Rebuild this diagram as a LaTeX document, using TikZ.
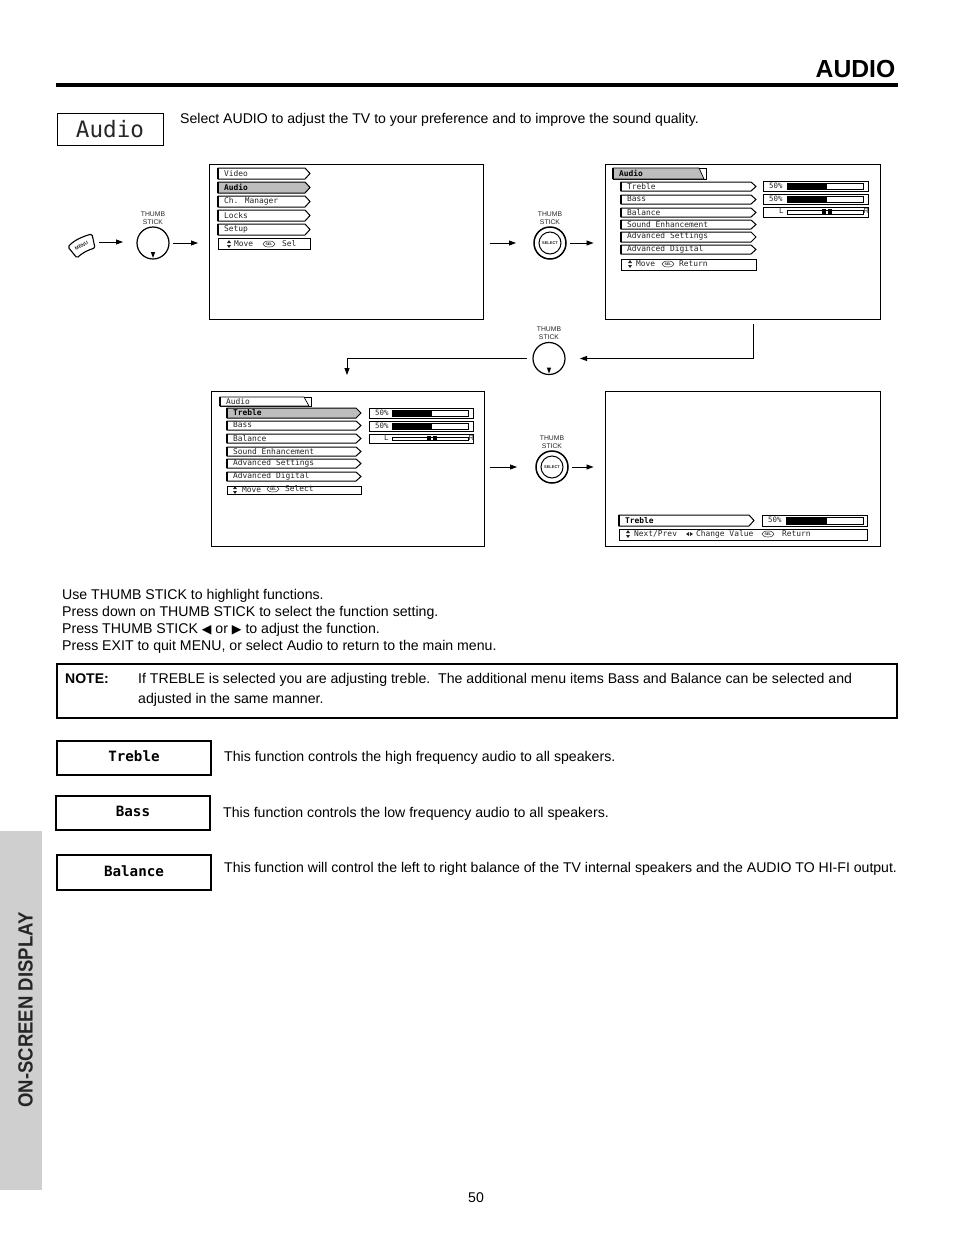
\documentclass[tikz,border=0pt]{standalone}
\usepackage{fontspec}
\setmainfont{Liberation Sans}
\newfontfamily\monof{DejaVu Sans Mono}
\newfontfamily\dvf{DejaVu Sans}
\usetikzlibrary{arrows.meta,calc,shapes.geometric}
\definecolor{tabgray}{gray}{0.81}
\definecolor{hlgray}{gray}{0.74}
\definecolor{inkc}{gray}{0.15}
\tikzset{
  frameb/.style={draw=black,line width=1pt,fill=white,anchor=north west,inner sep=0pt,outer sep=0pt},
  mbox/.style={draw=black,line width=1pt,fill=white,anchor=north west,inner sep=0pt,outer sep=0pt},
  ibox/.style={anchor=north west,inner sep=0pt,outer sep=0pt},
  mtext/.style={font=\monof\fontsize{7.9}{9}\selectfont,text=inkc,anchor=west,inner sep=0pt},
  mtextb/.style={font=\monof\bfseries\fontsize{7.9}{9}\selectfont,text=black,anchor=west,inner sep=0pt},
  body/.style={font=\fontsize{14.13}{17}\selectfont,anchor=base west,inner sep=0pt,text=black},
  fnbox/.style={draw=black,line width=2pt,fill=white,anchor=north west,inner sep=0pt,outer sep=0pt,text height=10pt,text depth=3pt,font=\monof\bfseries\fontsize{14.2}{17}\selectfont},
  tslabel/.style={font=\fontsize{6.8}{8}\selectfont,align=center,inner sep=0pt,text=inkc},
  stickc/.style={circle,draw=black,line width=1.2pt,minimum size=32pt,inner sep=0pt,outer sep=0pt,fill=white},
  arr/.style={line width=0.8pt,-{Triangle[length=7pt,width=5pt]}},
  selic/.style={ellipse,draw=inkc,line width=0.5pt,minimum width=12pt,minimum height=6pt,inner sep=0pt,font=\bfseries\fontsize{3.6}{4}\selectfont,text=inkc},
  tri/.style={fill=inkc,draw=none},
  smalltext/.style={font=\monof\fontsize{7.4}{8}\selectfont,text=inkc,anchor=west,inner sep=0pt},
}
% item box with chevron end: name x1 y1 x2 y2 text textstyle fill
\newcommand{\mitem}[8]{%
  \pgfmathsetmacro{\wv}{#4-#2}\pgfmathsetmacro{\hv}{#5-#3}%
  \node[ibox,minimum width=\wv pt,minimum height=\hv pt] (#1) at (#2,#3) {};
  \draw[line width=1pt,black,fill=#8] (#1.north west) -- ([xshift=-5pt]#1.north east) -- (#1.east) -- ([xshift=-5pt]#1.south east) -- (#1.south west) -- cycle;
  \draw[line width=1.8pt,black] (#1.south west) -- (#1.north west);
  \node[#7] (#1t) at ([xshift=6pt,yshift=0.4pt]#1.west) {#6};
}
% title box with slanted corner: name x1 y1 x2 y2 text textstyle fill
\newcommand{\mtitle}[8]{%
  \pgfmathsetmacro{\wv}{#4-#2}\pgfmathsetmacro{\hv}{#5-#3}%
  \node[mbox,minimum width=\wv pt,minimum height=\hv pt] (#1) at (#2,#3) {};
  \draw[line width=0.7pt,black,fill=#8] (#1.north west) -- ([xshift=-7pt]#1.north east) -- ([xshift=-2pt]#1.south east) -- (#1.south west) -- cycle;
  \draw[line width=1.8pt,black] (#1.south west) -- (#1.north west);
  \node[#7] (#1t) at ([xshift=6pt,yshift=0.4pt]#1.west) {#6};
}
\newcommand{\plainbox}[5]{%
  \pgfmathsetmacro{\wv}{#4-#2}\pgfmathsetmacro{\hv}{#5-#3}%
  \node[mbox,minimum width=\wv pt,minimum height=\hv pt] (#1) at (#2,#3) {};
}
% bar box: name x1 y1 x2 y2 barx1 barx2 fillx
\newcommand{\pctbar}[8]{%
  \plainbox{#1}{#2}{#3}{#4}{#5}
  \node[smalltext] (#1t) at (#2+6,#3+5) {50\%};
  \draw[line width=0.7pt,fill=white] (#6,#3+2) rectangle (#7,#5-2);
  \fill[black] (#6,#3+2) rectangle (#8,#5-2);
}
\newcommand{\balbar}[7]{%
  \plainbox{#1}{#2}{#3}{#4}{#5}
  \node[smalltext] (#1l) at (#6-8,#3+4) {L};
  \node[mtext,font=\fontsize{7.4}{8}\selectfont] (#1r) at (#7+0.5,#3+4) {R};
  \draw[line width=0.7pt,fill=white] (#6,#3+3) rectangle (#7,#5-3);
  \fill[black] (#6+35,#3+2) rectangle (#6+39,#5-2);
  \fill[black] (#6+41,#3+2) rectangle (#6+45,#5-2);
}
\newcommand{\updown}[2]{%
  \fill[tri] (#1-2,#2-1) -- (#1+2,#2-1) -- (#1,#2-4) -- cycle;
  \fill[tri] (#1-2,#2+1) -- (#1+2,#2+1) -- (#1,#2+4) -- cycle;
}
\newcommand{\stickdown}[3]{%
  \node[stickc] (#1) at (#2,#3) {};
  \fill[black] (#2-2.2,#3+9) -- (#2+2.2,#3+9) -- (#2,#3+15) -- cycle;
}
\newcommand{\stickselect}[3]{%
  \node[stickc,line width=1.5pt] (#1) at (#2,#3) {};
  \node[circle,draw=black,line width=1pt,minimum size=22pt,inner sep=0pt,font=\bfseries\fontsize{4}{5}\selectfont,text=inkc] (#1i) at (#2,#3) {SELECT};
}
\begin{document}
\begin{tikzpicture}[x=1pt,y=-1pt]
\useasboundingbox (0,0) rectangle (954,1235);
\fill[white] (0,0) rectangle (954,1235);
% header
\node[font=\bfseries\fontsize{24.7}{30}\selectfont,anchor=base east,inner sep=0pt] (title) at (895.5,77) {AUDIO};
\fill[black] (56,83) rectangle (898,87);
\node[draw=black,line width=1pt,anchor=north west,minimum width=106pt,minimum height=32pt,inner sep=0pt,outer sep=0pt,text height=17pt,text depth=0pt,font=\monof\fontsize{22.6}{26}\selectfont,text=inkc] (audiobox) at (57,113) {Audio};
\node[body,font=\fontsize{14.08}{17}\selectfont] (intro) at (180,123) {Select AUDIO to adjust the TV to your preference and to improve the sound quality.};
% frames
\node[frameb,minimum width=274.5pt,minimum height=155.5pt] (f1) at (209,164) {};
\node[frameb,minimum width=274.5pt,minimum height=155.5pt] (f2) at (605.5,164) {};
\node[frameb,minimum width=273.5pt,minimum height=155.5pt] (f3) at (211,391) {};
\node[frameb,minimum width=274.5pt,minimum height=155.5pt] (f4) at (605.5,391) {};
% menu 1
\mitem{a1}{218}{168}{310}{179}{Video}{mtext}{white}
\mitem{a2}{218}{182}{310}{193}{Audio}{mtextb}{hlgray}
\mitem{a3}{218}{196}{310}{207}{Ch. Manager}{mtext}{white}
\mitem{a4}{218}{210}{310}{221}{Locks}{mtext}{white}
\mitem{a5}{218}{224}{310}{235}{Setup}{mtext}{white}
\plainbox{a6}{218}{238}{310}{249}
\updown{229}{244}
\node[mtext] (a6a) at (234,244) {Move};
\node[selic] (a6s) at (269,244) {SEL};
\node[mtext] (a6b) at (282,244) {Sel};
% menu 2
\mtitle{b0}{613}{168}{706}{179}{Audio}{mtextb}{hlgray}
\mitem{b1}{621}{182}{756}{191}{Treble}{mtext}{white}
\mitem{b2}{621}{195}{756}{204}{Bass}{mtext}{white}
\mitem{b3}{621}{208}{756}{217}{Balance}{mtext}{white}
\mitem{b4}{621}{220}{756}{229}{Sound Enhancement}{mtext}{white}
\mitem{b5}{621}{232}{756}{242}{Advanced Settings}{mtext}{white}
\mitem{b6}{621}{245}{756}{254}{Advanced Digital}{mtext}{white}
\plainbox{b7}{621}{259}{756}{270}
\updown{630}{264}
\node[mtext] (b7a) at (636,264) {Move};
\node[selic] (b7s) at (668,264) {SEL};
\node[mtext] (b7b) at (679,264) {Return};
\pctbar{bb1}{763}{181}{868.5}{191}{787}{863}{827}
\pctbar{bb2}{763}{194}{868.5}{204}{787}{863}{827}
\balbar{bb3}{763}{207}{868.5}{217}{787}{863}
% menu 3
\mtitle{c0}{220}{397}{311}{406}{Audio}{mtext}{white}
\mitem{c1}{227}{408}{361}{418}{Treble}{mtextb}{hlgray}
\mitem{c2}{227}{421}{361}{430}{Bass}{mtext}{white}
\mitem{c3}{227}{434}{361}{443}{Balance}{mtext}{white}
\mitem{c4}{227}{447}{361}{456}{Sound Enhancement}{mtext}{white}
\mitem{c5}{227}{459}{361}{468}{Advanced Settings}{mtext}{white}
\mitem{c6}{227}{472}{361}{481}{Advanced Digital}{mtext}{white}
\plainbox{c7}{227}{486}{361}{494}
\updown{235}{490}
\node[mtext] (c7a) at (242,490) {Move};
\node[selic] (c7s) at (273,489) {SEL};
\node[mtext] (c7b) at (285,489) {Select};
\pctbar{cb1}{369}{408}{473.5}{418}{392}{468}{432}
\pctbar{cb2}{369}{421}{473.5}{431}{392}{468}{432}
\balbar{cb3}{369}{434}{473.5}{443}{392}{468}
% menu 4
\mitem{d1}{619}{515}{754}{526}{Treble}{mtextb}{white}
\pctbar{db1}{762}{515}{867}{526}{786}{863}{827}
\plainbox{d2}{619}{529}{867}{540}
\updown{628}{534}
\node[mtext] (d2a) at (634,534) {Next/Prev};
\fill[tri] (690,532) -- (690,536) -- (693,534) -- cycle;
\fill[tri] (689,532) -- (689,536) -- (686,534) -- cycle;
\node[mtext] (d2b) at (696,534) {Change Value};
\node[selic] (d2s) at (768,534) {SEL};
\node[mtext] (d2c) at (782,534) {Return};
% menu button
\draw[line width=1.1pt,fill=white,rounded corners=1.5pt] (68,247) .. controls (74,240) and (84,236) .. (92,234) -- (95,248) .. controls (88,250) and (82,253) .. (77,258) -- cycle;
\node[rotate=27,inner sep=0pt,font=\bfseries\fontsize{4.8}{5}\selectfont,text=inkc] (menub) at (81.5,246) {MENU};
% sticks
\stickdown{s1}{153}{243}
\node[tslabel] (s1l) at (153,218) {THUMB\\STICK};
\stickselect{s2}{550}{243}
\node[tslabel] (s2l) at (550,218.5) {THUMB\\STICK};
\stickdown{s3}{549}{358.5}
\node[tslabel] (s3l) at (549,333.5) {THUMB\\STICK};
\stickselect{s4}{552}{467}
\node[tslabel] (s4l) at (552,442) {THUMB\\STICK};
% connectors
\coordinate (m1) at (99,242);
\coordinate (m2) at (123,242);
\coordinate (e1) at (753,324);
\coordinate (e2) at (347,375);
\draw[arr] (m1) -- (m2);
\draw[arr] ([xshift=4pt]s1.east) -- ([xshift=-11pt]s1.east -| f1.west);
\draw[arr] ([xshift=6pt]s2.west -| f1.east) -- ([xshift=-18pt]s2.west);
\draw[arr] ([xshift=4pt]s2.east) -- ([xshift=-12pt]s2.east -| f2.west);
\draw[arr] (e1) |- ([xshift=15pt]s3.east);
\draw[arr] ([xshift=-6pt]s3.west) -| (e2);
\draw[arr] ([xshift=5pt]s4.west -| f3.east) -- ([xshift=-19pt]s4.west);
\draw[arr] ([xshift=4pt]s4.east) -- ([xshift=-12pt]s4.east -| f4.west);
% instructions
\node[body] (i1) at (62,599) {Use THUMB STICK to highlight functions.};
\node[body] (i2) at (62,616) {Press down on THUMB STICK to select the function setting.};
\node[body] (i3) at (62,633) {Press THUMB STICK {\dvf\fontsize{12.5}{12}\selectfont ◀} or {\dvf\fontsize{12.5}{12}\selectfont ▶} to adjust the function.};
\node[body] (i4) at (62,650) {Press EXIT to quit MENU, or select Audio to return to the main menu.};
% note
\node[draw=black,line width=2pt,anchor=north west,minimum width=840pt,minimum height=54pt,inner sep=0pt,outer sep=0pt] (note) at (57,664) {};
\node[body,font=\bfseries\fontsize{14}{17}\selectfont] (nl) at (65,683) {NOTE:};
\node[body] (n1) at (138,683) {If TREBLE is selected you are adjusting treble.\ \ The additional menu items Bass and Balance can be selected and};
\node[body] (n2) at (138,703) {adjusted in the same manner.};
% functions
\node[fnbox,minimum width=154pt,minimum height=34pt] (ft) at (57,741) {Treble};
\node[body] (ftt) at (224,761) {This function controls the high frequency audio to all speakers.};
\node[fnbox,minimum width=154pt,minimum height=34pt] (fb) at (56,796) {Bass};
\node[body] (fbt) at (223,817) {This function controls the low frequency audio to all speakers.};
\node[fnbox,minimum width=154pt,minimum height=35pt] (fl) at (57,855) {Balance};
\node[body,font=\fontsize{14.08}{17}\selectfont] (flt) at (224,872) {This function will control the left to right balance of the TV internal speakers and the AUDIO TO HI-FI output.};
% side tab
\fill[tabgray] (0,831) rectangle (42,1190);
\node[font=\bfseries\fontsize{20.5}{22}\selectfont,rotate=90,xscale=0.905,inner sep=0pt,text=inkc] (tab) at (25.5,1010) {ON-SCREEN DISPLAY};
\node[font=\fontsize{14.08}{17}\selectfont,inner sep=0pt] (page) at (476,1198) {50};
\end{tikzpicture}
\end{document}
